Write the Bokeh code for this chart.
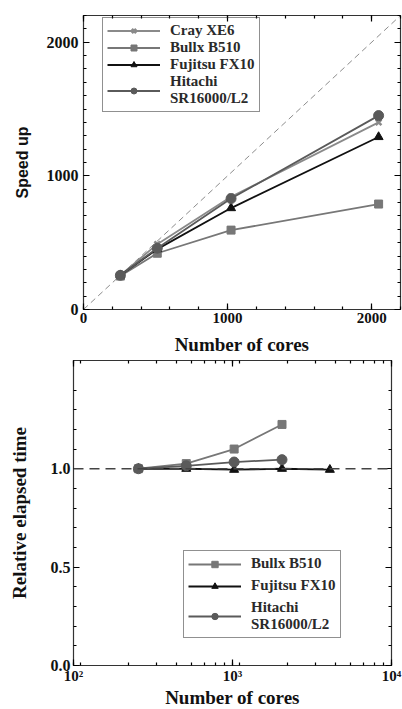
from bokeh.plotting import figure
from bokeh.models import (LinearAxis, LogAxis, SingleIntervalTicker, LogTicker, FixedTicker,
                          CustomJSTickFormatter, Span, Legend)
from bokeh.embed import file_html
from bokeh.resources import INLINE

# ---------------- data ----------------
cores = [256, 512, 1024, 2048]
cray_speedup = [256, 489, 844, 1400]
bullx_speedup = [250, 421, 594, 789]
fujitsu_speedup = [256, 452, 759, 1291]
hitachi_speedup = [256, 459, 830, 1451]
ideal_x = [0, 2200]
ideal_y = [0, 2200]

rel_cores = [256, 512, 1024, 2048]
fujitsu_rel_cores = [256, 512, 1024, 2048, 4096]
bullx_rel = [1.0, 1.026, 1.10, 1.225]
fujitsu_rel = [1.0, 1.0, 0.995, 1.0, 0.995]
hitachi_rel = [1.0, 1.015, 1.034, 1.046]
reference_rel = 1.0

rel_major_ticks = [0.0, 0.5, 1.0]
rel_minor_ticks = [0.1, 0.2, 0.3, 0.4, 0.6, 0.7, 0.8, 0.9, 1.1, 1.2, 1.3, 1.4]
log_tick_labels = {100: "10\u00b2", 1000: "10\u00b3", 10000: "10\u2074"}

SERIF = "Liberation Serif"
SANS = "Liberation Sans"

C_CRAY = "#8a8a8a"
C_BULLX = "#777777"
C_FUJ = "#111111"
C_HIT = "#5a5a5a"


def style_axis(ax, size="16px"):
    ax.axis_line_color = None
    ax.major_tick_in = 6
    ax.major_tick_out = 0
    ax.minor_tick_in = 3
    ax.minor_tick_out = 0
    ax.major_tick_line_color = "#000000"
    ax.minor_tick_line_color = "#000000"
    ax.major_tick_line_width = 1.2
    ax.minor_tick_line_width = 1.2
    ax.major_label_text_font = SERIF
    ax.major_label_text_font_style = "bold"
    ax.major_label_text_font_size = size
    ax.major_label_text_color = "#111111"
    ax.axis_label_text_font = SERIF
    ax.axis_label_text_font_style = "bold"
    ax.axis_label_text_font_size = "19px"
    ax.axis_label_text_color = "#111111"


def blank_axis(ax):
    style_axis(ax)
    ax.formatter = CustomJSTickFormatter(code="return ''")
    ax.major_label_standoff = 0
    ax.major_label_text_font_size = "1px"


def style_legend(leg, size="15px"):
    leg.border_line_color = "#222222"
    leg.border_line_width = 1.2
    leg.label_text_font = SERIF
    leg.label_text_font_style = "bold"
    leg.label_text_font_size = size
    leg.label_text_color = "#2a2a2a"
    leg.label_text_line_height = 1.0
    leg.glyph_width = 53
    leg.margin = 0
    leg.label_standoff = 10
    leg.background_fill_alpha = 0


# ---------------- top: speed up ----------------
p1 = figure(frame_width=317, frame_height=294, x_range=(0, 2200), y_range=(0, 2200),
            output_backend="svg", toolbar_location=None,
            min_border_left=83, min_border_right=2, min_border_top=15, min_border_bottom=46)
p1.grid.visible = False
p1.outline_line_color = "#333333"
p1.outline_line_width = 1.2

p1.xaxis.ticker = SingleIntervalTicker(interval=1000, num_minor_ticks=5)
p1.yaxis.ticker = SingleIntervalTicker(interval=1000, num_minor_ticks=10)
style_axis(p1.xaxis[0], size="15px")
style_axis(p1.yaxis[0])
p1.xaxis.axis_label = "Number of cores"
p1.yaxis.axis_label = "Speed up"
p1.yaxis.axis_label_text_font = SANS
p1.yaxis.axis_label_text_font_size = "16px"
p1.xaxis.major_label_standoff = 3
p1.yaxis.major_label_standoff = 5
p1.xaxis.axis_label_standoff = 8
p1.yaxis.axis_label_standoff = 13

ax_top = LinearAxis(ticker=SingleIntervalTicker(interval=1000, num_minor_ticks=5))
blank_axis(ax_top)
p1.add_layout(ax_top, "above")
ax_right = LinearAxis(ticker=SingleIntervalTicker(interval=1000, num_minor_ticks=10))
blank_axis(ax_right)
p1.add_layout(ax_right, "right")

p1.line(ideal_x, ideal_y, line_color="#8c8c8c", line_dash="6 4", line_width=1)

lw = 1.8
r = []
l = p1.line(cores, cray_speedup, line_color=C_CRAY, line_width=lw)
m = p1.scatter(cores, cray_speedup, marker="x", size=8, line_color=C_CRAY, line_width=2.5)
r.append(("Cray XE6", [l, m]))
l = p1.line(cores, bullx_speedup, line_color=C_BULLX, line_width=lw)
m = p1.scatter(cores, bullx_speedup, marker="square", size=8, fill_color=C_BULLX, line_color=C_BULLX)
r.append(("Bullx B510", [l, m]))
l = p1.line(cores, fujitsu_speedup, line_color=C_FUJ, line_width=lw)
m = p1.scatter(cores, fujitsu_speedup, marker="triangle", size=9, fill_color=C_FUJ, line_color=C_FUJ)
r.append(("Fujitsu FX10", [l, m]))
l = p1.line(cores, hitachi_speedup, line_color=C_HIT, line_width=lw)
m = p1.scatter(cores, hitachi_speedup, marker="circle", size=10, fill_color=C_HIT, line_color=C_HIT)
r.append(("Hitachi\nSR16000/L2", [l, m]))

leg1 = Legend(items=r, location=(19, 197))
style_legend(leg1)
leg1.glyph_height = 15
leg1.label_height = 15
leg1.spacing = 0
leg1.padding = 4
p1.add_layout(leg1, "center")

# ---------------- bottom: relative elapsed time ----------------
p2 = figure(frame_width=318, frame_height=305, x_axis_type="log",
            x_range=(100, 10000), y_range=(0, 1.55),
            output_backend="svg", toolbar_location=None,
            min_border_left=73, min_border_right=11, min_border_top=3, min_border_bottom=44)
p2.grid.visible = False
p2.outline_line_color = "#333333"
p2.outline_line_width = 1.2

p2.xaxis.ticker = LogTicker(mantissas=[1], num_minor_ticks=9)
p2.xaxis.major_label_overrides = log_tick_labels
p2.yaxis.ticker = FixedTicker(ticks=rel_major_ticks, minor_ticks=rel_minor_ticks)
p2.yaxis.formatter = CustomJSTickFormatter(code="return tick.toFixed(1)")
style_axis(p2.xaxis[0], size="15px")
style_axis(p2.yaxis[0], size="16px")
p2.xaxis.axis_label = "Number of cores"
p2.yaxis.axis_label = "Relative elapsed time"
p2.xaxis.major_label_standoff = 2
p2.yaxis.major_label_standoff = 3
p2.xaxis.axis_label_standoff = 0
p2.yaxis.axis_label_standoff = 18

ax_top2 = LogAxis(ticker=LogTicker(mantissas=[1], num_minor_ticks=9))
blank_axis(ax_top2)
p2.add_layout(ax_top2, "above")
ax_right2 = LinearAxis(ticker=FixedTicker(ticks=rel_major_ticks, minor_ticks=rel_minor_ticks))
blank_axis(ax_right2)
p2.add_layout(ax_right2, "right")

p2.add_layout(Span(location=reference_rel, dimension="width", line_color="#444444",
                   line_dash="10 6", line_width=1.5))

r2 = []
l = p2.line(rel_cores, bullx_rel, line_color=C_BULLX, line_width=lw)
m = p2.scatter(rel_cores, bullx_rel, marker="square", size=8, fill_color=C_BULLX, line_color=C_BULLX)
r2.append(("Bullx B510", [l, m]))
l = p2.line(fujitsu_rel_cores, fujitsu_rel, line_color=C_FUJ, line_width=lw)
m = p2.scatter(fujitsu_rel_cores, fujitsu_rel, marker="triangle", size=9, fill_color=C_FUJ, line_color=C_FUJ)
r2.append(("Fujitsu FX10", [l, m]))
l = p2.line(rel_cores, hitachi_rel, line_color=C_HIT, line_width=lw)
m = p2.scatter(rel_cores, hitachi_rel, marker="circle", size=10, fill_color=C_HIT, line_color=C_HIT)
r2.append(("Hitachi\nSR16000/L2", [l, m]))

leg2 = Legend(items=r2, location=(110, 27))
style_legend(leg2)
leg2.glyph_height = 16
leg2.label_height = 16
leg2.spacing = 5
leg2.padding = 4
p2.add_layout(leg2, "center")

open("out.html", "w").write(file_html([p1, p2], INLINE))
